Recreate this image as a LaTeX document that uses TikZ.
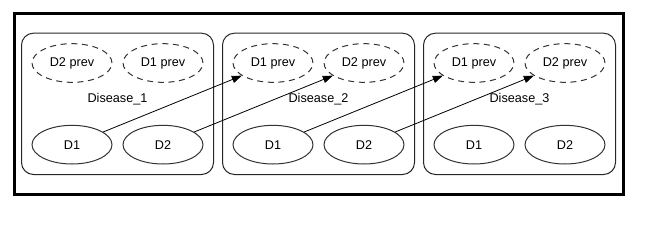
\documentclass[tikz,border=0pt]{standalone}
\usepackage{fontspec}
\setmainfont{Liberation Sans}
\usepackage{tikz}
\usetikzlibrary{shapes.geometric,arrows.meta,positioning,fit}

\begin{document}
\begin{tikzpicture}[
    x=0.75pt, y=-0.75pt,
    node distance=31.5pt and 7.5pt,
    font=\fontsize{9.5}{10}\selectfont,
    dnode/.style={draw=black!80, line width=0.75pt, ellipse, minimum width=60pt, minimum height=29pt, inner sep=0pt, text centered},
    prevnode/.style={dnode, dash pattern=on 4.5pt off 3.5pt},
    cluster/.style={draw=black!85, line width=0.75pt, rounded corners=9pt, inner sep=7.5pt, text depth=0pt},
    myedge/.style={-{Triangle[length=7.5pt,width=5.5pt]}, line width=0.6pt}
]
\useasboundingbox (0,0) rectangle (672,225);
\draw[line width=2.25pt] (14,13) rectangle (623,194);

% Disease_1
\node[prevnode] (Pa2) at (72,63) {D2 prev};
\node[prevnode] (Pa1) [right=of Pa2] {D1 prev};
\node[dnode] (Da1) [below=of Pa2] {D1};
\node[dnode] (Da2) [right=of Da1] {D2};
\node[cluster, fit=(Pa2)(Da2)] (Ca) {Disease\_1};

% Disease_2
\node[prevnode] (Pb1) [right=21.75pt of Pa1] {D1 prev};
\node[prevnode] (Pb2) [right=of Pb1] {D2 prev};
\node[dnode] (Db1) [below=of Pb1] {D1};
\node[dnode] (Db2) [right=of Db1] {D2};
\node[cluster, fit=(Pb1)(Db2)] (Cb) {Disease\_2};

% Disease_3
\node[prevnode] (Pc1) [right=21.75pt of Pb2] {D1 prev};
\node[prevnode] (Pc2) [right=of Pc1] {D2 prev};
\node[dnode] (Dc1) [below=of Pc1] {D1};
\node[dnode] (Dc2) [right=of Dc1] {D2};
\node[cluster, fit=(Pc1)(Dc2)] (Cc) {Disease\_3};

\draw[myedge] (Da1) -- (Pb1);
\draw[myedge] (Da2) -- (Pb2);
\draw[myedge] (Db1) -- (Pc1);
\draw[myedge] (Db2) -- (Pc2);
\end{tikzpicture}
\end{document}
